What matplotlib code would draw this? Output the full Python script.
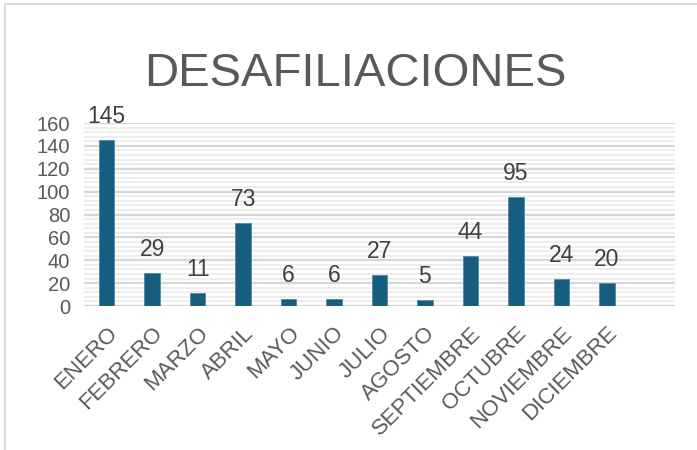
import matplotlib.pyplot as plt
from matplotlib.lines import Line2D
from matplotlib.ticker import MultipleLocator

# datos del gráfico
meses = ["ENERO", "FEBRERO", "MARZO", "ABRIL", "MAYO", "JUNIO",
         "JULIO", "AGOSTO", "SEPTIEMBRE", "OCTUBRE", "NOVIEMBRE", "DICIEMBRE"]
desafiliaciones = [145, 29, 11, 73, 6, 6, 27, 5, 44, 95, 24, 20]

BAR_COLOR = "#175d80"
TEXT_COLOR = "#595959"

plt.rcParams["font.family"] = ["Liberation Sans", "DejaVu Sans"]

fig = plt.figure(figsize=(6.97, 4.5), dpi=100)
ax = fig.add_axes([84 / 697, 1 - 306 / 450, (675 - 84) / 697, (306 - 123) / 450])

x = list(range(len(meses)))
ax.bar(x, desafiliaciones, width=0.34, color=BAR_COLOR,
       edgecolor="#4f8aa8", linewidth=0.6, zorder=3)

# etiquetas de valor sobre cada barra
for xi, v in zip(x, desafiliaciones):
    ax.annotate(str(v), (xi, v), xytext=(0, 12), textcoords="offset pixels",
                ha="center", va="bottom", fontsize=16.5, color="#404040",
                annotation_clip=False)

ax.set_xlim(-0.5, 12.5)
ax.set_ylim(0, 160)
ax.yaxis.set_major_locator(MultipleLocator(20))
ax.yaxis.set_minor_locator(MultipleLocator(4))
ax.grid(which="major", axis="y", color="#d6d6d6", linewidth=1.6, zorder=0)
ax.grid(which="minor", axis="y", color="#ededed", linewidth=1.4, zorder=0)
ax.set_axisbelow(True)

for s in ax.spines.values():
    s.set_visible(False)
ax.tick_params(axis="both", which="both", length=0)
ax.tick_params(axis="y", labelsize=14.5, labelcolor=TEXT_COLOR, pad=10)
ax.tick_params(axis="x", labelsize=16, labelcolor=TEXT_COLOR, pad=12)
ax.set_xticks(x)
ax.set_xticklabels(meses, rotation=45, ha="right", rotation_mode="anchor")

fig.text(355 / 697, 1 - 74 / 450, "DESAFILIACIONES", ha="center", va="center",
         fontsize=34, color=TEXT_COLOR)

# marco del gráfico (cortado a la derecha y abajo)
fig.add_artist(Line2D([5 / 697, 5 / 697], [0, 1 - 4 / 450], color="#d9d9d9", linewidth=1.5))
fig.add_artist(Line2D([5 / 697, 1], [1 - 4 / 450, 1 - 4 / 450], color="#d9d9d9", linewidth=1.5))

fig.savefig("out.png", dpi=100)
